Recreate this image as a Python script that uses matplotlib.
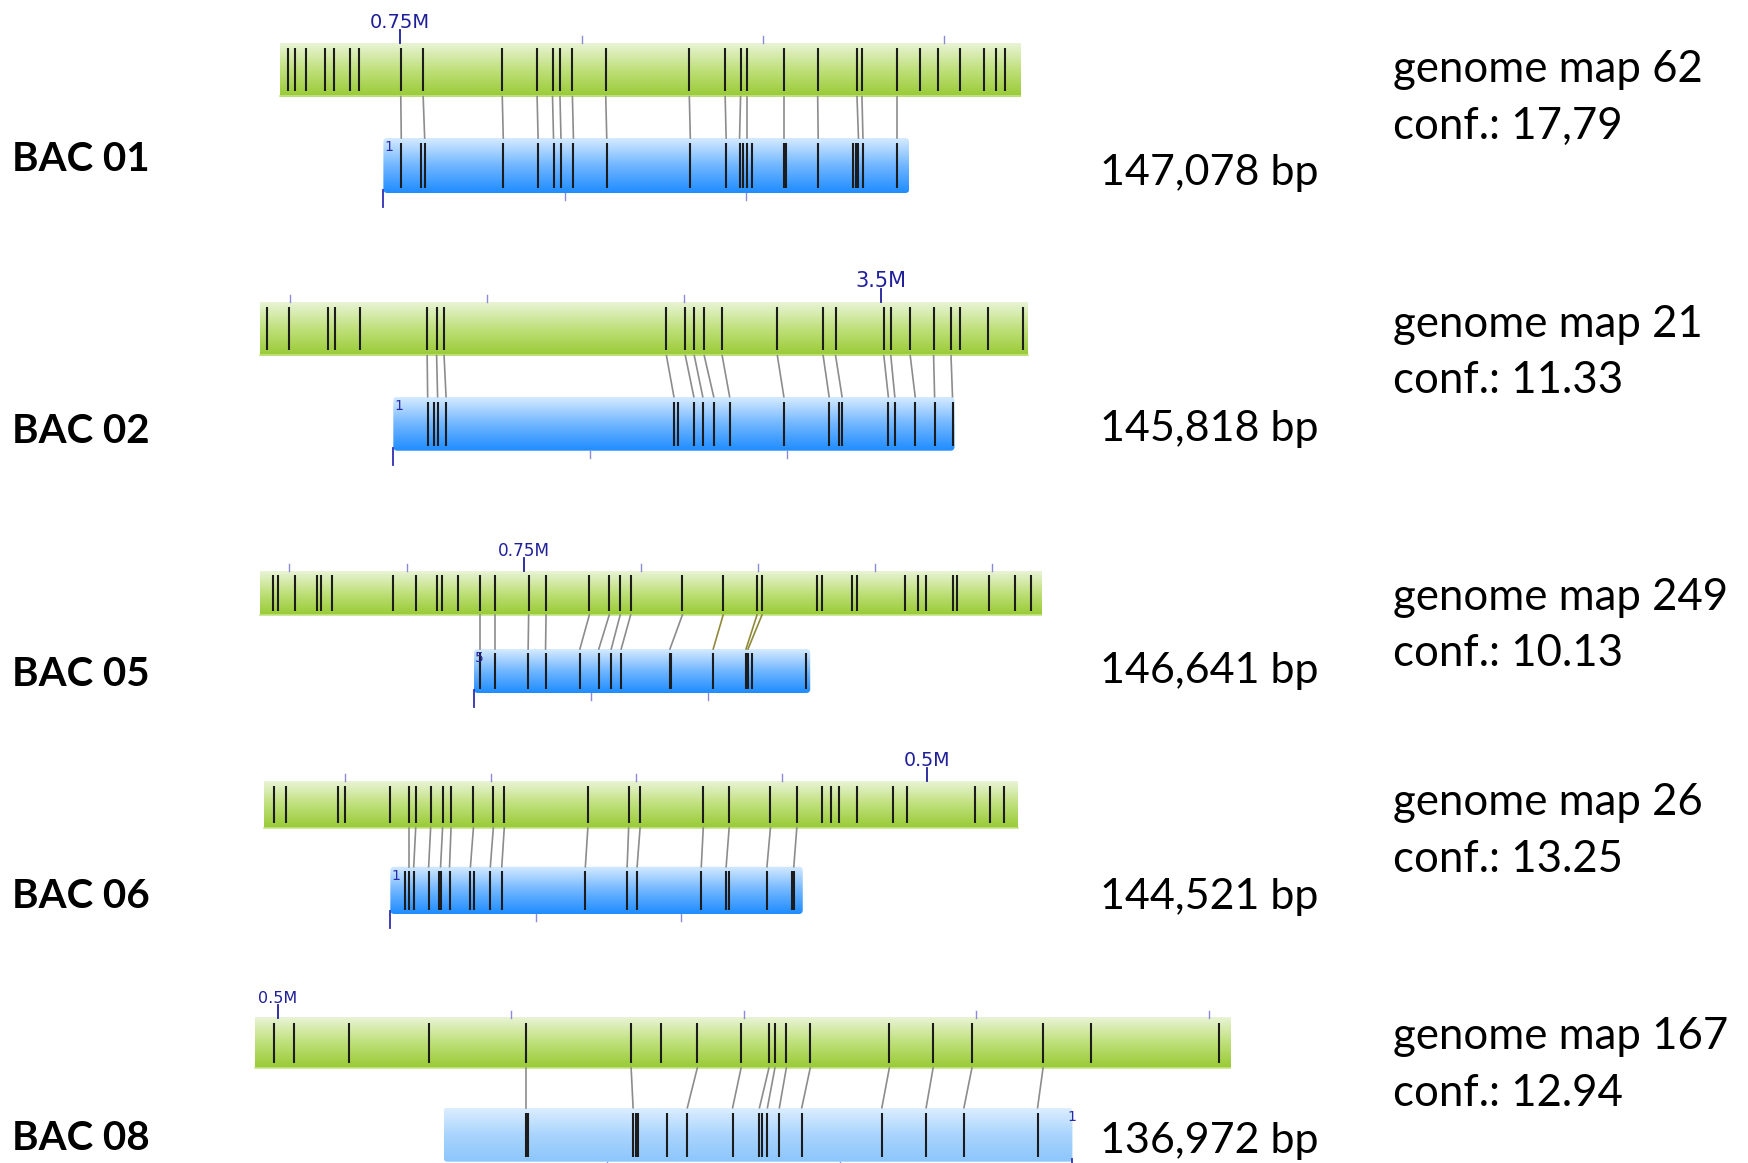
import numpy as np
import matplotlib.pyplot as plt
from matplotlib.colors import LinearSegmentedColormap
from matplotlib.patches import FancyBboxPatch

# ---- alignment data (positions along the drawing x axis) ----
bac_names = ["BAC 01", "BAC 02", "BAC 05", "BAC 06", "BAC 08"]
bac_sizes = ["147,078 bp", "145,818 bp", "146,641 bp", "144,521 bp", "136,972 bp"]
map_ids = ["62", "21", "249", "26", "167"]
conf_labels = ["17,79", "11.33", "10.13", "13.25", "12.94"]

map_spans = [(280, 1024), (260.5, 1032), (260, 1045), (264.5, 1022), (254.5, 1235)]
bac_spans = [(384, 912.5), (394, 958), (475, 813), (391, 805.5), (444.5, 1076.5)]
bac_orient = [1, 1, 1, 1, -1]
bac_start_labels = ["1", "1", "5", "1", "1"]

scale_major = [401, 884.5, 525, 930.5, 278]
scale_labels = ["0.75M", "3.5M", "0.75M", "0.5M", "0.5M"]
scale_step = [182.3, 198, 117.7, 146.2, 234]

map_marks_01 = [288.5, 295, 306.5, 325, 334, 350, 360, 401.5, 424, 503.5, 538.5,
                554, 561.5, 574, 607.5, 691.5, 727.5, 743, 749, 786.5, 820.5, 860,
                865, 900.5, 923.5, 941, 964, 987.5, 1000, 1008.5]
bac_marks_01 = [402, 421.5, 425.5, 504.5, 539.5, 555, 562.5, 575, 608.5, 692.5,
                728.5, 742, 745, 749, 754, 786.5, 787.5, 789, 821, 856, 859, 861.5,
                866, 900.5]
pairs_01 = [(7, 0), (8, 2), (9, 3), (10, 4), (11, 5), (12, 6), (13, 7), (14, 8),
            (15, 9), (16, 10), (17, 11), (18, 13), (19, 15), (20, 18), (21, 21),
            (22, 22), (23, 23)]

map_marks_02 = [267, 289.5, 328.5, 335, 360.5, 428, 437.5, 445, 668.5, 687.5, 696.5,
                706.5, 724.5, 780, 826, 838.5, 887, 894, 913.5, 937, 954.5, 964,
                991.5, 1027]
bac_marks_02 = [428.5, 435, 438.5, 447, 676, 680, 696, 705, 716, 732, 786.5, 832,
                841.5, 845, 891.5, 898, 918.5, 938, 956]
pairs_02 = [(5, 0), (6, 2), (7, 3), (8, 4), (9, 6), (10, 7), (11, 8), (12, 9),
            (13, 10), (14, 11), (15, 13), (16, 14), (17, 15), (18, 16), (19, 17),
            (20, 18)]

map_marks_05 = [273, 278, 295, 317.5, 321.5, 332.5, 394, 417, 437.5, 443, 459, 481,
                496.5, 530, 547.5, 591, 611, 622, 632.5, 684.5, 725.5, 759.5, 764.5,
                820, 824.5, 854.5, 860.5, 908.5, 921.5, 929.5, 956, 960.5, 992.5,
                1018.5, 1035]
bac_marks_05 = [481, 496.5, 529.5, 547, 581.5, 600.5, 613, 623, 672, 673.5, 715.5,
                748.5, 750.5, 754, 809]
pairs_05 = [(11, 0), (12, 1), (13, 2), (14, 3), (15, 4), (16, 5), (17, 6), (18, 7),
            (19, 8), (20, 10), (21, 11), (22, 12)]
weak_05 = [(20, 10), (21, 11), (22, 12)]

map_marks_06 = [274, 286, 338.5, 345, 391, 410, 416.5, 431.5, 443.5, 452, 474.5,
                494.5, 505.5, 589.5, 630.5, 642, 705.5, 731.5, 773, 799.5, 824.5,
                833.5, 842, 860.5, 896, 910, 979, 993.5, 1008]
bac_marks_06 = [406, 410, 414.5, 429.5, 440, 441.5, 450.5, 471.5, 475, 491.5, 503,
                587, 629, 639, 703.5, 728.5, 731, 769.5, 795, 796.5]
pairs_06 = [(5, 1), (6, 2), (7, 3), (8, 5), (9, 6), (10, 7), (11, 9), (12, 10),
            (13, 11), (14, 12), (15, 13), (16, 14), (17, 15), (18, 17), (19, 19)]

map_marks_08 = [274, 294, 349, 430, 527.5, 633, 663.5, 699.5, 743.5, 771.5, 777.5,
                789, 813, 892.5, 936.5, 975.5, 1047, 1095.5, 1223.5]
bac_marks_08 = [527.5, 529.5, 635, 637.5, 639.5, 669.5, 689.5, 735, 762, 765, 770,
                782, 804.5, 885, 929.5, 967.5, 1041.5]
pairs_08 = [(4, 0), (5, 2), (7, 6), (8, 7), (9, 8), (10, 10), (11, 11), (12, 12),
            (13, 13), (14, 14), (15, 15), (16, 16)]

map_marks = [map_marks_01, map_marks_02, map_marks_05, map_marks_06, map_marks_08]
bac_marks = [bac_marks_01, bac_marks_02, bac_marks_05, bac_marks_06, bac_marks_08]
pairs = [pairs_01, pairs_02, pairs_05, pairs_06, pairs_08]
weak = [[], [], weak_05, [], []]

# ---- layout: (map top, map height, bac top, bac height) per row ----
rows_y = [(42.7, 54, 138, 55), (301.7, 54, 396.7, 54), (571, 44, 649, 44),
          (781, 47, 866.7, 47.3), (1017.7, 50.3, 1107.7, 54)]
label_base = [171, 443, 686, 908, 1150]
size_base = [185, 441.5, 683, 909.5, 1152.5]
gmap_base = [82.5, 336.7, 609.8, 815, 1049]
tick_fs = [14, 15, 12.2, 13.7, 11.5]

green = LinearSegmentedColormap.from_list("g", ["#98ca34", "#bfe07a", "#e9f4d6"])
blue = LinearSegmentedColormap.from_list("b", ["#1e8cff", "#70b6ff", "#d6ebff"])
pale = LinearSegmentedColormap.from_list("p", ["#8cc6fc", "#a9d4fd", "#dceeff"])
grad = np.linspace(0, 1, 256)[:, None]

fig = plt.figure(figsize=(17.48, 11.63), dpi=100)
ax = fig.add_axes([0, 0, 1, 1])
ax.set_xlim(-1.3, 1755.5)
ax.set_ylim(1163, 0)
ax.axis("off")

tick_dark = "#1f1f9a"
tick_light = "#8a8ad6"


def bar(x0, x1, top, h, cmap, rounded=False):
    im = ax.imshow(grad, cmap=cmap, extent=(x0, x1, top + h, top), origin="lower",
                   aspect="auto", interpolation="bicubic", zorder=1)
    if rounded:
        clip = FancyBboxPatch((x0, top), x1 - x0, h,
                              boxstyle="round,pad=0,rounding_size=4",
                              facecolor="none", edgecolor="none")
        ax.add_patch(clip)
        im.set_clip_path(clip)


for i in range(5):
    mt, mh, bt, bh = rows_y[i]
    mx0, mx1 = map_spans[i]
    bx0, bx1 = bac_spans[i]

    # genome map track
    bar(mx0, mx1, mt, mh, green)
    ax.plot([mx0, mx1], [mt + mh - 0.5, mt + mh - 0.5], color="#c4e486", lw=1.2, zorder=2)
    ax.vlines(map_marks[i], mt + mh * 0.1, mt + mh * 0.9, color="#1c1c1c", lw=1.5, zorder=3)

    # scale ticks above the map
    step = scale_step[i]
    k0 = int(np.ceil((mx0 - scale_major[i]) / step))
    k1 = int(np.floor((mx1 - scale_major[i]) / step))
    for k in range(k0, k1 + 1):
        xt = scale_major[i] + k * step
        if k == 0:
            ax.plot([xt, xt], [mt - 13, mt], color=tick_dark, lw=1.3, zorder=2)
            ax.text(xt, mt - 15, scale_labels[i], ha="center", va="baseline",
                    fontsize=tick_fs[i], color=tick_dark, family="DejaVu Sans")
        else:
            ax.plot([xt, xt], [mt - 7, mt], color=tick_light, lw=1.0, zorder=2)

    # BAC track
    bar(bx0, bx1, bt, bh, pale if i == 4 else blue, rounded=True)
    ax.vlines(bac_marks[i], bt + bh * 0.09, bt + bh * 0.91, color="#1c1c1c", lw=1.5, zorder=3)

    start = bx0 if bac_orient[i] > 0 else bx1
    ax.plot([start, start], [bt + bh - 3, bt + bh + 14], color="#3030b0", lw=1.3, zorder=2)
    ax.text(start + 1 * bac_orient[i], bt + 13, bac_start_labels[i],
            ha="left" if bac_orient[i] > 0 else "center", va="baseline",
            fontsize=10, color="#2a2aa8", family="DejaVu Sans", zorder=4)
    xt = start + bac_orient[i] * step
    while bx0 < xt < bx1:
        ax.plot([xt, xt], [bt + bh, bt + bh + 7], color=tick_light, lw=1.0, zorder=2)
        xt += bac_orient[i] * step

    # alignment lines between matched sites
    for g, b in pairs[i]:
        col = "#8f8a3a" if (g, b) in weak[i] else "#8c8c8c"
        ax.plot([map_marks[i][g], bac_marks[i][b]], [mt + mh, bt],
                color=col, lw=1.2, zorder=2)

    # labels
    ax.text(11, label_base[i], bac_names[i], ha="left", va="baseline",
            fontsize=29, fontweight="bold", family="Lato", color="black")
    ax.text(1104, size_base[i], bac_sizes[i], ha="left", va="baseline",
            fontsize=31, family="Lato", color="black")
    ax.text(1399, gmap_base[i], "genome map " + map_ids[i], ha="left", va="baseline",
            fontsize=31.5, family="Lato", color="black")
    ax.text(1399, gmap_base[i] + 56.5, "conf.: " + conf_labels[i], ha="left",
            va="baseline", fontsize=31.5, family="Lato", color="black")

fig.savefig("out.png", dpi=100)
